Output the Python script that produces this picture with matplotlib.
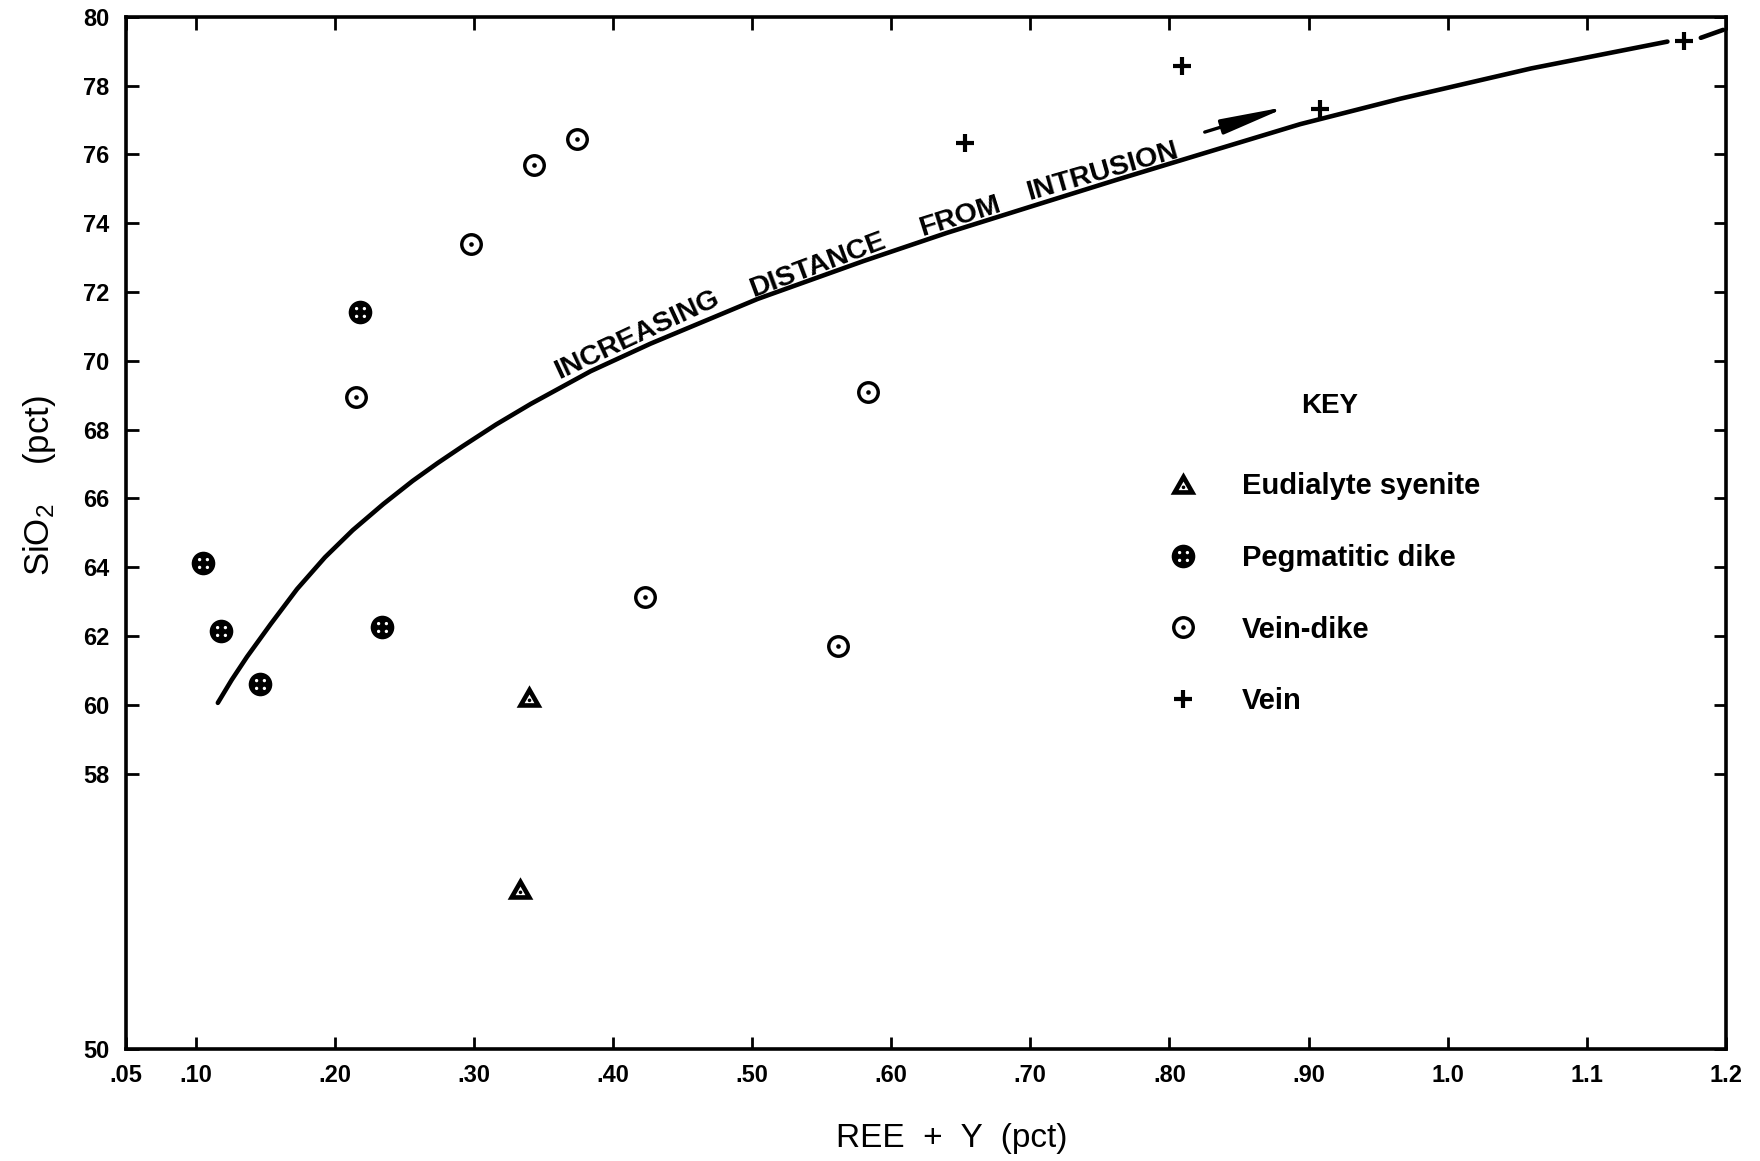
import numpy as np
import matplotlib.pyplot as plt
from matplotlib.path import Path

plt.rcParams['font.family'] = ['Liberation Sans', 'DejaVu Sans']
plt.rcParams['mathtext.fontset'] = 'custom'
plt.rcParams['mathtext.rm'] = 'Liberation Sans'
plt.rcParams['mathtext.it'] = 'Liberation Sans:italic'
plt.rcParams['mathtext.bf'] = 'Liberation Sans:bold'

# values
eud_x = [0.340, 0.333]
eud_y = [60.23, 54.65]

peg_x = [0.105, 0.118, 0.146, 0.218, 0.234]
peg_y = [64.13, 62.15, 60.61, 71.42, 62.27]

vd_x = [0.215, 0.298, 0.343, 0.374, 0.423, 0.562, 0.583]
vd_y = [68.95, 73.41, 75.70, 76.45, 63.14, 61.70, 69.10]

vein_x = [0.653, 0.809, 0.908, 1.170]
vein_y = [76.32, 78.57, 77.33, 79.29]

# hand drawn trend curve, traced
trend_x = [0.116, 0.126, 0.137, 0.154, 0.173, 0.193, 0.213, 0.235, 0.256,
           0.274, 0.292, 0.316, 0.341, 0.384, 0.427, 0.504, 0.580, 0.640,
           0.700, 0.761, 0.822, 0.894, 0.966, 1.060, 1.158]
trend_y = [60.06, 60.73, 61.40, 62.35, 63.37, 64.29, 65.08, 65.84, 66.51,
           67.03, 67.52, 68.15, 68.75, 69.70, 70.50, 71.80, 72.90, 73.72,
           74.48, 75.25, 76.00, 76.88, 77.62, 78.50, 79.28]
trend_ext_x = [1.182, 1.198]
trend_ext_y = [79.39, 79.62]

xticks = [0.05, 0.1, 0.2, 0.3, 0.4, 0.5, 0.6, 0.7, 0.8, 0.9, 1.0, 1.1, 1.2]
xlabels = ['.05', '.10', '.20', '.30', '.40', '.50', '.60', '.70', '.80',
           '.90', '1.0', '1.1', '1.2']
yticks = [50, 58, 60, 62, 64, 66, 68, 70, 72, 74, 76, 78, 80]

labels = ['Eudialyte syenite', 'Pegmatitic dike', 'Vein-dike', 'Vein']


def rev(p):
    # same outline, opposite direction (makes a hole)
    v = p.vertices[:-1][::-1]
    v = np.vstack([v, v[:1]])
    return Path(v, p.codes)


circ = Path.circle((0, 0), 1.0)
holes = [rev(Path.circle((dx, dy), 0.14))
         for dx, dy in [(0.33, 0.33), (-0.33, 0.33), (0.33, -0.33), (-0.33, -0.33)]]
peg_m = Path.make_compound_path(circ, *holes)
ring_m = Path.make_compound_path(circ, rev(Path.circle((0, 0), 0.70)),
                                 Path.circle((0, 0), 0.2))

c = np.array([0.0, -0.22])
outer = np.array([[0, 0.95], [-1, -0.8], [1, -0.8]])
inner = (c + (outer - c) * 0.38)[::-1]
codes = [Path.MOVETO, Path.LINETO, Path.LINETO, Path.CLOSEPOLY]
tri_m = Path.make_compound_path(Path(np.vstack([outer, outer[:1]]), codes),
                                Path(np.vstack([inner, inner[:1]]), codes),
                                Path.circle(tuple(c), 0.14))

fig = plt.figure(figsize=(17.6, 11.61), dpi=100)
ax = fig.add_axes([0.0716, 0.0965, 0.909, 0.889])

ax.plot(trend_x, trend_y, color='black', lw=3.3, solid_capstyle='round',
        solid_joinstyle='round')
ax.plot(trend_ext_x, trend_ext_y, color='black', lw=3.3, solid_capstyle='round')

ax.plot(eud_x, eud_y, ls='none', marker=tri_m, ms=18.5, mfc='black', mew=0,
        label=labels[0])
ax.plot(peg_x, peg_y, ls='none', marker=peg_m, ms=17, mfc='black', mew=0,
        label=labels[1])
ax.plot(vd_x, vd_y, ls='none', marker=ring_m, ms=16.5, mfc='black', mew=0,
        label=labels[2])
ax.plot(vein_x, vein_y, ls='none', marker='+', ms=13, mew=3, color='black',
        label=labels[3])

# lettering sitting on the curve
words = [('INCREASING', 0.421, 70.45, 25),
         ('DISTANCE', 0.550, 72.45, 20.5),
         ('FROM', 0.652, 73.87, 17.5),
         ('INTRUSION', 0.754, 75.16, 16)]
for w, wx, wy, ang in words:
    off = 3.5
    ax.annotate(w, (wx, wy), xytext=(-off * np.sin(np.radians(ang)),
                                     off * np.cos(np.radians(ang))),
                textcoords='offset points', rotation=ang, rotation_mode='anchor',
                ha='center', va='baseline', fontsize=20.5, fontweight='bold')

ax.annotate('', xy=(0.8858, 77.40), xytext=(0.8254, 76.65),
            arrowprops=dict(arrowstyle='-|>,head_length=4,head_width=0.45',
                            mutation_scale=10, lw=2.4, color='black',
                            shrinkA=0, shrinkB=0))

ax.set_xlim(0.05, 1.2)
ax.set_ylim(50, 80)
ax.set_xticks(xticks)
ax.set_xticklabels(xlabels)
ax.set_yticks(yticks)
ax.tick_params(direction='in', length=9, width=2, top=True, right=True,
               labelsize=17)
ax.tick_params(axis='x', pad=11)
ax.tick_params(axis='y', pad=12)
for lab in ax.get_xticklabels() + ax.get_yticklabels():
    lab.set_fontweight('bold')
for s in ax.spines.values():
    s.set_linewidth(2.6)

leg = ax.legend(loc='upper left', bbox_to_anchor=(0.6526, 0.559),
                frameon=False, prop={'weight': 'bold', 'size': 21},
                handlelength=0.9, handletextpad=1.55, labelspacing=1.5,
                borderpad=0, borderaxespad=0, numpoints=1)
ax.text(0.7524, 0.623, 'KEY', transform=ax.transAxes, ha='center',
        va='center', fontsize=20, fontweight='bold')

fig.text(0.0222, 0.582, 'SiO$_2$    (pct)', rotation=90, ha='center',
         va='center', fontsize=25)
fig.text(0.541, 0.0198, 'REE  +  Y  (pct)', ha='center', va='center',
         fontsize=24)

fig.savefig('out.png', dpi=100)
